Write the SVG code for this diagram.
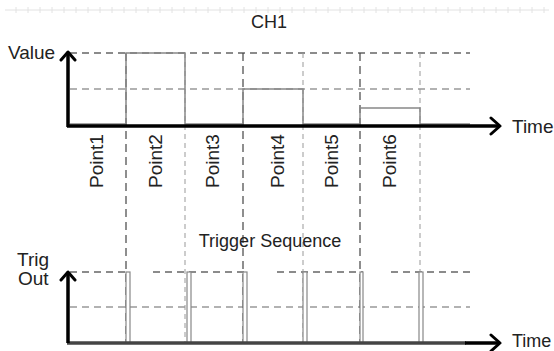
<svg xmlns="http://www.w3.org/2000/svg" width="554" height="351" viewBox="0 0 554 351">
<style>
text{font-family:"Liberation Sans",Arial,sans-serif;fill:#222;font-size:19px}
.axis{stroke:#000;stroke-width:3.5;fill:none}
.arrow{stroke:#000;stroke-width:3;fill:none;stroke-linecap:round;stroke-linejoin:round}
.hdark{stroke:#666;stroke-width:1.5;stroke-dasharray:7 5;fill:none}
.hlight{stroke:#999;stroke-width:1.5;stroke-dasharray:7 5;fill:none}
.vdark{stroke:#444;stroke-width:1.2;stroke-dasharray:8 5;fill:none}
.vlight{stroke:#999;stroke-width:1;stroke-dasharray:5 4;fill:none}
.sig{stroke:#888;stroke-width:1.5;fill:none}
.pulse{stroke:#888;stroke-width:1.2;fill:#fff}
.ruler{stroke:#e2e2e2;stroke-width:1;fill:none}
</style>
<g id="ruler">
<path class="ruler" d="M5 10H549"/>
<path class="ruler" d="M16 7v6M28 7v6M40 7v6M52 7v6M64 7v6M76 7v6M88 7v6M100 7v6M112 7v6M124 7v6M136 7v6M148 7v6M160 7v6M172 7v6M184 7v6M196 7v6M208 7v6M220 7v6M232 7v6M244 7v6M256 7v6M268 7v6M280 7v6M292 7v6M304 7v6M316 7v6M328 7v6M340 7v6M352 7v6M364 7v6M376 7v6M388 7v6M400 7v6M412 7v6M424 7v6M436 7v6M448 7v6M460 7v6M472 7v6M484 7v6M496 7v6M508 7v6M520 7v6M532 7v6M544 7v6"/>
</g>
<g id="grid">
<path class="hdark" d="M70 53H470"/>
<path class="hlight" d="M70 89H470"/>
<path class="hdark" d="M70 272H126M153 272H247M277 272H363M391 272H470"/>
<path class="hlight" d="M70 307H470"/>
<path class="vdark" d="M126 53V343M243 53V343M360 53V343"/>
<path class="vlight" d="M185 53V343M303 53V343M420 53V343"/>
</g>
<g id="ch1-signal">
<path class="sig" d="M70 124H126V53H185V124H243V89H303V124H360V108H420V124H470"/>
</g>
<g id="trigger-pulses">
<rect class="pulse" x="126" y="272" width="4" height="71"/>
<rect class="pulse" x="187" y="272" width="4" height="71"/>
<rect class="pulse" x="243" y="272" width="4" height="71"/>
<rect class="pulse" x="303" y="272" width="4" height="71"/>
<rect class="pulse" x="360" y="272" width="3" height="71"/>
<rect class="pulse" x="419" y="272" width="4" height="71"/>
</g>
<g id="axes">
<path class="axis" d="M68 127V53M67 126H499"/>
<path class="arrow" d="M61 60L68 52L75 60M491 118L500 126L491 134"/>
<path d="M67 343H466" stroke="#444" stroke-width="3.5" fill="none"/>
<path class="axis" d="M68 343V273M465 343H499"/>
<path class="arrow" d="M61 280L68 272L75 280M491 335L500 343L491 351"/>
</g>
<g id="labels">
<text x="269" y="28" text-anchor="middle" style="font-size:18px">CH1</text>
<text x="8" y="59">Value</text>
<text x="512" y="133">Time</text>
<text x="512" y="347" style="font-size:18px">Time</text>
<text x="17" y="266">Trig</text>
<text x="18" y="285">Out</text>
<text x="270" y="247" text-anchor="middle" style="font-size:18px">Trigger Sequence</text>
<text transform="translate(103 161) rotate(-90)" text-anchor="middle">Point1</text>
<text transform="translate(162 161) rotate(-90)" text-anchor="middle">Point2</text>
<text transform="translate(219 161) rotate(-90)" text-anchor="middle">Point3</text>
<text transform="translate(284 161) rotate(-90)" text-anchor="middle">Point4</text>
<text transform="translate(338 161) rotate(-90)" text-anchor="middle">Point5</text>
<text transform="translate(396 161) rotate(-90)" text-anchor="middle">Point6</text>
</g>
</svg>
